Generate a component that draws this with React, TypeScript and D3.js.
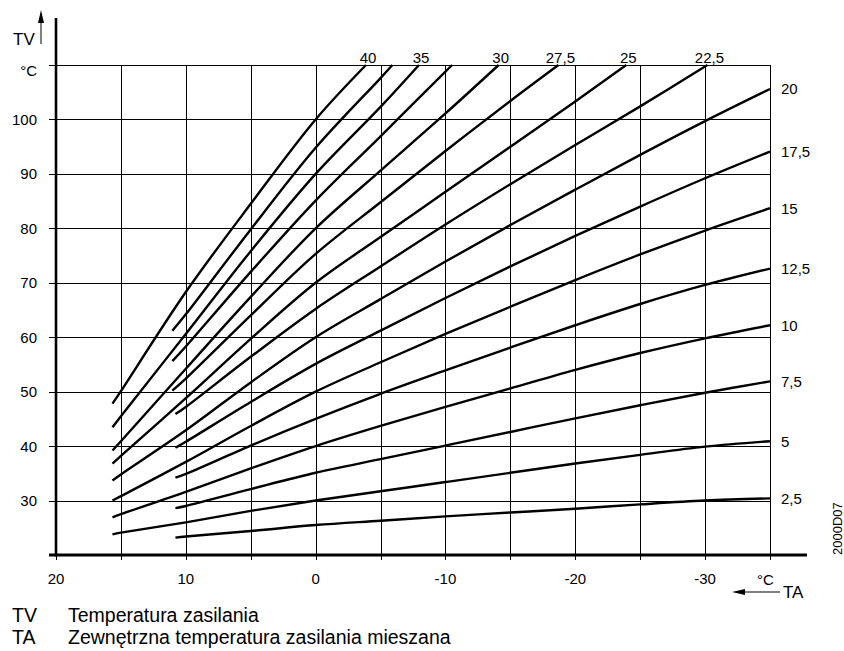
import { useEffect, useRef } from "react";
import * as d3 from "d3";

const WIDTH = 844;
const HEIGHT = 651;
const FONT = "'Liberation Sans', Arial, Helvetica, sans-serif";

// outside temperature TA (x) and flow temperature TV (y)
const X_GRID = [20, 15, 10, 5, 0, -5, -10, -15, -20, -25, -30, -35];
const X_TICKS = [20, 10, 0, -10, -20, -30];
const Y_GRID = [30, 40, 50, 60, 70, 80, 90, 100, 110];
const Y_TICKS = [30, 40, 50, 60, 70, 80, 90, 100];

// heating curve slopes and their printed labels ("" = unlabeled curve)
const SLOPES = [2.5, 5, 7.5, 10, 12.5, 15, 17.5, 20, 22.5, 25, 27.5, 30, 32.5, 35, 37.5, 40];
const SLOPE_LABELS = ["2,5", "5", "7,5", "10", "12,5", "15", "17,5", "20", "22,5", "25", "27,5", "30", "", "35", "", "40"];

// [TA, TV] points
const CURVE_2_5 = [[10.8, 23.2], [10, 23.4], [5, 24.4], [0, 25.5], [-5, 26.3], [-10, 27.1], [-15, 27.8], [-20, 28.5], [-25, 29.3], [-30, 30.0], [-35, 30.4]];
const CURVE_5 = [[15.65, 23.8], [15, 24.1], [10, 26.0], [5, 28.1], [0, 30.0], [-5, 31.7], [-10, 33.4], [-15, 35.1], [-20, 36.8], [-25, 38.4], [-30, 39.9], [-35, 40.9]];
const CURVE_7_5 = [[10.8, 28.6], [10, 29.0], [5, 32.1], [0, 35.1], [-5, 37.6], [-10, 40.1], [-15, 42.6], [-20, 45.1], [-25, 47.5], [-30, 49.8], [-35, 51.9]];
const CURVE_10 = [[15.65, 26.9], [15, 27.5], [10, 31.6], [5, 35.9], [0, 40.0], [-5, 43.7], [-10, 47.2], [-15, 50.6], [-20, 54.0], [-25, 57.1], [-30, 59.8], [-35, 62.2]];
const CURVE_12_5 = [[10.8, 34.2], [10, 34.9], [5, 40.1], [0, 45.0], [-5, 49.6], [-10, 53.9], [-15, 58.1], [-20, 62.2], [-25, 66.1], [-30, 69.6], [-35, 72.6]];
const CURVE_15 = [[15.65, 30.0], [15, 30.8], [10, 37.1], [5, 43.7], [0, 50.0], [-5, 55.4], [-10, 60.6], [-15, 65.6], [-20, 70.5], [-25, 75.2], [-30, 79.6], [-35, 83.7]];
const CURVE_17_5 = [[10.8, 39.7], [10, 40.8], [5, 48.1], [0, 55.1], [-5, 61.2], [-10, 67.2], [-15, 73.0], [-20, 78.6], [-25, 84.0], [-30, 89.2], [-35, 94.1]];
const CURVE_20 = [[15.65, 33.7], [15, 34.8], [10, 42.9], [5, 51.7], [0, 60.0], [-5, 67.0], [-10, 73.9], [-15, 80.6], [-20, 87.1], [-25, 93.5], [-30, 99.7], [-35, 105.6]];
const CURVE_22_5 = [[10.8, 45.9], [10, 47.2], [5, 56.4], [0, 65.2], [-5, 73.0], [-10, 80.7], [-15, 88.1], [-20, 95.3], [-25, 102.4], [-30.18, 110]];
const CURVE_25 = [[15.65, 36.8], [15, 38.2], [10, 48.8], [5, 59.7], [0, 70.0], [-5, 78.4], [-10, 86.7], [-15, 95.0], [-20, 103.3], [-23.93, 110]];
const CURVE_27_5 = [[11.04, 50.2], [10, 52.4], [5, 64.0], [0, 75.3], [-5, 84.8], [-10, 94.2], [-15, 103.4], [-18.7, 110]];
const CURVE_30 = [[15.65, 39.2], [15, 40.9], [10, 54.2], [5, 67.4], [0, 80.0], [-5, 90.6], [-10, 101.1], [-14.1, 110]];
const CURVE_32_5 = [[11.04, 55.6], [10, 58.3], [5, 72.0], [0, 85.1], [-5, 96.9], [-10, 108.8], [-10.52, 110]];
const CURVE_35 = [[15.65, 43.45], [15, 45.5], [10, 60.6], [5, 75.8], [0, 90.0], [-5, 102.3], [-7.96, 110]];
const CURVE_37_5 = [[11.04, 61.2], [10, 64.2], [5, 79.8], [0, 94.8], [-5, 107.6], [-5.91, 110]];
const CURVE_40 = [[15.65, 47.8], [15, 50.1], [10, 68.3], [5, 84.5], [0, 100.0], [-3.88, 110]];

const CURVES = [
  CURVE_2_5, CURVE_5, CURVE_7_5, CURVE_10, CURVE_12_5, CURVE_15, CURVE_17_5, CURVE_20,
  CURVE_22_5, CURVE_25, CURVE_27_5, CURVE_30, CURVE_32_5, CURVE_35, CURVE_37_5, CURVE_40,
];

const LEGEND_KEYS = ["TV", "TA"];
const LEGEND_TEXT = ["Temperatura zasilania", "Zewnętrzna temperatura zasilania mieszana"];

export default function App() {
  const svgRef = useRef<SVGSVGElement>(null);

  useEffect(() => {
    if (!svgRef.current) return;
    const svg = d3.select(svgRef.current);
    svg.selectAll("*").remove();

    const x = d3.scaleLinear().domain([20, -35]).range([56, 770]);
    const y = d3.scaleLinear().domain([20, 110]).range([555, 65]);
    const crisp = (v: number) => Math.round(v) + 0.5;

    const g = svg.append("g").attr("font-family", FONT).attr("fill", "#000");

    // grid
    g.selectAll(".vgrid").data(X_GRID).join("line")
      .attr("x1", (d) => crisp(x(d))).attr("x2", (d) => crisp(x(d)))
      .attr("y1", y(110)).attr("y2", 560)
      .attr("stroke", "#000").attr("stroke-width", 1);

    g.selectAll(".hgrid").data(Y_GRID).join("line")
      .attr("x1", 49).attr("x2", x(-35))
      .attr("y1", (d) => crisp(y(d))).attr("y2", (d) => crisp(y(d)))
      .attr("stroke", "#000").attr("stroke-width", 1);

    // heating curves
    const line = d3.line<number[]>()
      .x((d) => x(d[0]))
      .y((d) => y(d[1]))
      .curve(d3.curveCatmullRom.alpha(0.5));

    g.selectAll(".curve").data(CURVES).join("path")
      .attr("d", (d) => line(d))
      .attr("fill", "none")
      .attr("stroke", "#000")
      .attr("stroke-width", 2.4);

    // axes
    g.append("line").attr("x1", 56).attr("x2", 56).attr("y1", 18).attr("y2", 556.5)
      .attr("stroke", "#000").attr("stroke-width", 2.6);
    g.append("line").attr("x1", 49).attr("x2", 807).attr("y1", 555).attr("y2", 555)
      .attr("stroke", "#000").attr("stroke-width", 3);

    // tick labels
    g.selectAll(".ylab").data(Y_TICKS).join("text")
      .attr("x", 37).attr("y", (d) => y(d) + 5.5)
      .attr("text-anchor", "end").attr("font-size", 15)
      .text((d) => d);

    g.append("text").attr("x", 37).attr("y", 76)
      .attr("text-anchor", "end").attr("font-size", 15).text("°C");

    g.selectAll(".xlab").data(X_TICKS).join("text")
      .attr("x", (d) => x(d)).attr("y", 584)
      .attr("text-anchor", "middle").attr("font-size", 15)
      .text((d) => d);

    // curve labels: steep ones above the top line, the rest at the right edge
    CURVES.forEach((pts, i) => {
      const label = SLOPE_LABELS[i];
      if (!label) return;
      const end = pts[pts.length - 1];
      if (end[1] >= 110) {
        g.append("text").attr("x", x(end[0]) + 2).attr("y", 62.5)
          .attr("text-anchor", "middle").attr("font-size", 15).text(label);
      } else {
        g.append("text").attr("x", 781).attr("y", y(end[1]) + 5.5)
          .attr("font-size", 15).text(label);
      }
    });

    // TV axis title with arrow
    g.append("text").attr("x", 13).attr("y", 45).attr("font-size", 17).text("TV");
    g.append("line").attr("x1", 41).attr("x2", 41).attr("y1", 20).attr("y2", 44)
      .attr("stroke", "#000").attr("stroke-width", 1);
    g.append("path").attr("d", "M41,10 L38,23 L44,23 Z").attr("fill", "#000");

    // TA axis title with arrow
    g.append("text").attr("x", 757).attr("y", 585).attr("font-size", 15).text("°C");
    g.append("text").attr("x", 783).attr("y", 598).attr("font-size", 17).text("TA");
    g.append("line").attr("x1", 742).attr("x2", 780).attr("y1", 592).attr("y2", 592)
      .attr("stroke", "#000").attr("stroke-width", 1);
    g.append("path").attr("d", "M732,592 L745,589 L745,595 Z").attr("fill", "#000");

    // drawing id
    g.append("text").attr("transform", "translate(842,555) rotate(-90)")
      .attr("font-size", 13).text("2000D07");

    // legend
    LEGEND_KEYS.forEach((k, i) => {
      g.append("text").attr("x", 12).attr("y", 622 + i * 22).attr("font-size", 19.5).text(k);
      g.append("text").attr("x", 68).attr("y", 622 + i * 22).attr("font-size", 19.5).text(LEGEND_TEXT[i]);
    });
  }, []);

  return (
    <svg
      ref={svgRef}
      width={WIDTH}
      height={HEIGHT}
      style={{ position: "absolute", left: 0, top: 0, background: "#fff" }}
    />
  );
}
